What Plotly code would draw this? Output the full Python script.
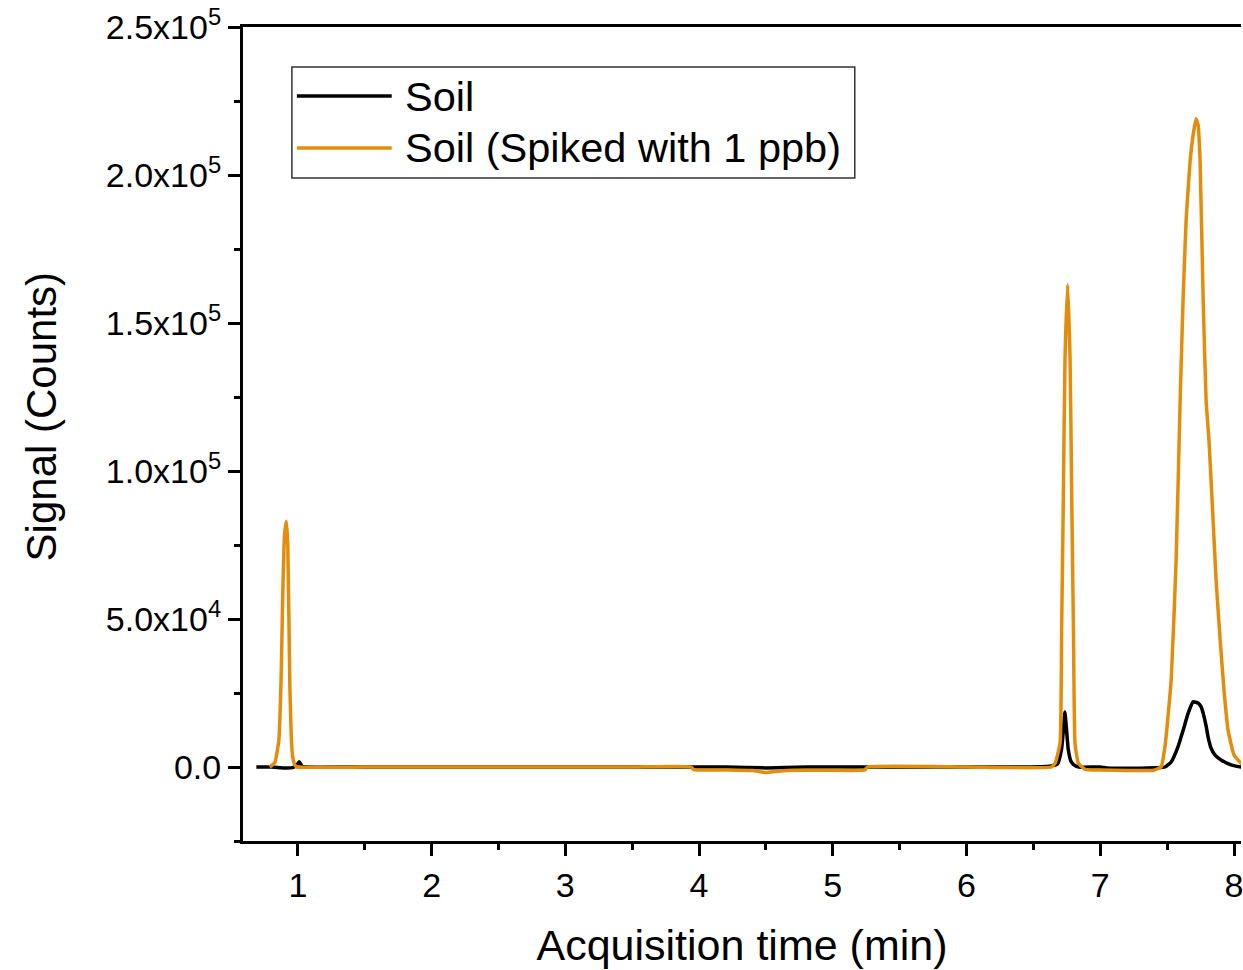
import plotly.graph_objects as go

# Chromatogram traces: acquisition time (min) vs. signal (counts)
soil_time = [0.69, 0.80, 0.90, 0.96, 0.99, 1.01, 1.03, 1.06, 1.50, 2.00, 3.00, 3.95,
             4.20, 4.50, 4.80, 5.25, 5.80, 6.40, 6.62, 6.68, 6.71, 6.725, 6.735, 6.745,
             6.76, 6.78, 6.80, 6.84, 7.00, 7.05, 7.30, 7.45, 7.485, 7.53, 7.58, 7.62,
             7.657, 7.694, 7.731, 7.754, 7.769, 7.791, 7.806, 7.828, 7.858, 7.903,
             7.978, 8.052, 8.10]
soil_signal = [0, 0, -300, -200, 500, 1800, 300, 0, 0, 0, 0, 0,
               0, -300, 0, 0, 0, 0, 300, 1000, 6000, 13000, 18600, 14000,
               6000, 2000, 800, 0, 0, -300, -400, -200, 0, 1700, 6700, 12500,
               18200, 22000, 21600, 20300, 18200, 13900, 10100, 6400, 4000, 2400,
               700, 0, 0]

spiked_time = [0.79, 0.828, 0.858, 0.875, 0.888, 0.90, 0.914, 0.925, 0.94, 0.952, 0.963,
               0.98, 0.993, 1.50, 2.50, 3.50, 3.94, 3.96, 4.20, 4.40, 4.50, 4.55, 4.70,
               5.00, 5.24, 5.26, 6.00, 6.634, 6.662, 6.699, 6.711, 6.724, 6.736, 6.756,
               6.774, 6.786, 6.799, 6.811, 6.836, 6.886, 7.00, 7.20, 7.40, 7.433, 7.455,
               7.485, 7.53, 7.567, 7.597, 7.619, 7.642, 7.672, 7.694, 7.716, 7.731,
               7.746, 7.769, 7.791, 7.813, 7.836, 7.866, 7.896, 7.925, 7.955, 8.00,
               8.052, 8.10]
spiked_signal = [0, 1500, 9000, 30000, 60000, 78000, 83000, 75000, 28000, 9000, 3000,
                 500, 0, 0, 0, 0, 0, -900, -1000, -1200, -1900, -1600, -1100,
                 -1100, -1000, 0, 0, 0, 1300, 8000, 47000, 92500, 137500, 163000,
                 137500, 92500, 47000, 8000, 1300, -800, -1000, -1200, -1100, -500, 0,
                 7400, 29400, 70000, 124000, 158000, 185000, 205000, 213500, 219000, 217000,
                 205000, 158000, 124000, 110000, 90000, 63000, 43000, 26000, 12500, 4000,
                 1300, 0]

series_names = ["Soil", "Soil (Spiked with 1 ppb)"]
series_colors = ["#000000", "#E38D0B"]

y_tick_vals = [0, 50000, 100000, 150000, 200000, 250000]
y_tick_text = ["0.0", "5.0x10<sup>4</sup>", "1.0x10<sup>5</sup>", "1.5x10<sup>5</sup>",
               "2.0x10<sup>5</sup>", "2.5x10<sup>5</sup>"]
y_minor_vals = [-25000, 25000, 75000, 125000, 175000, 225000]
x_tick_vals = [1, 2, 3, 4, 5, 6, 7, 8]
x_minor_vals = [1.5, 2.5, 3.5, 4.5, 5.5, 6.5, 7.5]

FONT = "Liberation Sans, Arial, sans-serif"

fig = go.Figure()
for t, s, name, color in [(soil_time, soil_signal, series_names[0], series_colors[0]),
                          (spiked_time, spiked_signal, series_names[1], series_colors[1])]:
    fig.add_trace(go.Scatter(x=t, y=s, mode="lines", name=name,
                             line=dict(color=color, width=3.5, shape="spline", smoothing=0.4),
                             showlegend=False))

# Boxed legend with long line samples
legend_box = dict(x0=0.049, x1=0.613, y0=0.8145, y1=0.9509)
shapes = [dict(type="rect", xref="paper", yref="paper", **legend_box,
               line=dict(color="#333333", width=1.5), fillcolor="white", layer="above")]
annotations = []
for row_y, name, color in [(0.9152, series_names[0], series_colors[0]),
                           (0.8514, series_names[1], series_colors[1])]:
    shapes.append(dict(type="line", xref="paper", yref="paper", x0=0.054, x1=0.149,
                       y0=row_y, y1=row_y, line=dict(color=color, width=3.5), layer="above"))
    annotations.append(dict(xref="paper", yref="paper", x=0.160, y=row_y, text=name,
                            showarrow=False, xanchor="left", yanchor="middle",
                            font=dict(family=FONT, size=41.5, color="black")))

# y-axis title
annotations.append(dict(xref="paper", yref="paper", x=-0.201, y=0.5209,
                        text="Signal (Counts)", textangle=-90, showarrow=False,
                        xanchor="center", yanchor="middle",
                        font=dict(family=FONT, size=42, color="black")))

axis_common = dict(showline=True, linecolor="black", linewidth=3, ticks="outside",
                   ticklen=12, tickwidth=2.5, tickcolor="black", showgrid=False,
                   zeroline=False, ticklabeloverflow="allow",
                   tickfont=dict(family=FONT, size=34, color="black"))

fig.update_layout(
    width=1243, height=970,
    margin=dict(l=243, r=0, t=27, b=129),
    paper_bgcolor="white", plot_bgcolor="white",
    font=dict(family=FONT, color="black"),
    xaxis=dict(**axis_common, range=[0.59, 8.052], tickmode="array", tickvals=x_tick_vals,
               mirror=True,
               minor=dict(tickmode="array", tickvals=x_minor_vals, ticks="outside",
                          ticklen=6, tickwidth=2.5, tickcolor="black"),
               title=dict(text="Acquisition time (min)", standoff=28,
                          font=dict(family=FONT, size=43, color="black"))),
    yaxis=dict(**axis_common, range=[-25000, 250000], tickmode="array",
               tickvals=y_tick_vals, ticktext=y_tick_text,
               minor=dict(tickmode="array", tickvals=y_minor_vals, ticks="outside",
                          ticklen=6, tickwidth=2.5, tickcolor="black")),
    shapes=shapes,
    annotations=annotations,
)

fig.write_html("out.html")
